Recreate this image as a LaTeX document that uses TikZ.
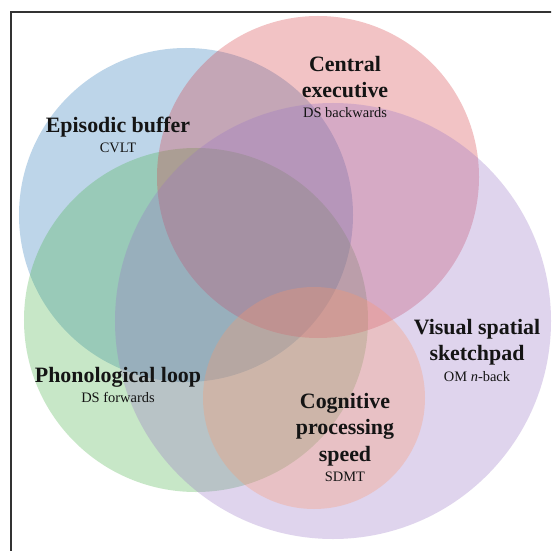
\documentclass[tikz,border=0pt]{standalone}
\usepackage{fontspec}
\setmainfont{Liberation Serif}
\usepackage{xcolor}
\usepackage{tikz}

\definecolor{ebblue}{RGB}{38,118,185}
\definecolor{plgreen}{RGB}{72,178,72}
\definecolor{cered}{RGB}{215,58,65}
\definecolor{vspurple}{RGB}{152,115,198}
\definecolor{cpsalmon}{RGB}{254,150,105}
\definecolor{txtgray}{RGB}{20,20,20}

\begin{document}
\begin{tikzpicture}[x=1bp,y=-1bp,
  blob/.style={fill opacity=0.3},
  title/.style={anchor=base,inner sep=0pt,text=txtgray,font=\fontsize{22}{24}\selectfont\bfseries},
  test/.style={anchor=base,inner sep=0pt,text=txtgray,font=\fontsize{14.5}{16}\selectfont}]

\clip (0,0) rectangle (551,551);
\fill[white] (0,0) rectangle (551,551);

\fill[blob,ebblue] (186,215) circle[radius=167bp];   % episodic buffer
\fill[blob,plgreen] (196,320) circle[radius=172bp];  % phonological loop
\fill[blob,cered] (318,177) circle[radius=161bp];    % central executive
\fill[blob,vspurple] (333,321) circle[radius=218bp]; % visual spatial
\fill[blob,cpsalmon] (314,398) circle[radius=111bp]; % processing speed

\draw[line width=1.8bp,black!80] (11,12) rectangle (600,600);

\node[title] (ce1) at (345,72) {Central};
\node[title] (ce2) at (345,98) {executive};
\node[test] (cet) at (345,118) {DS backwards};

\node[title] (eb1) at (118,133) {Episodic buffer};
\node[test] (ebt) at (118,153) {CVLT};

\node[title] (pl1) at (118,382) {Phonological loop};
\node[test] (plt) at (118,402) {DS forwards};

\node[title] (vs1) at (477,334) {Visual spatial};
\node[title] (vs2) at (477,360) {sketchpad};
\node[test] (vst) at (477,381) {OM \textit{n}-back};

\node[title] (cp1) at (345,408) {Cognitive};
\node[title] (cp2) at (345,434) {processing};
\node[title] (cp3) at (345,461) {speed};
\node[test] (cpt) at (345,481) {SDMT};

\end{tikzpicture}
\end{document}
